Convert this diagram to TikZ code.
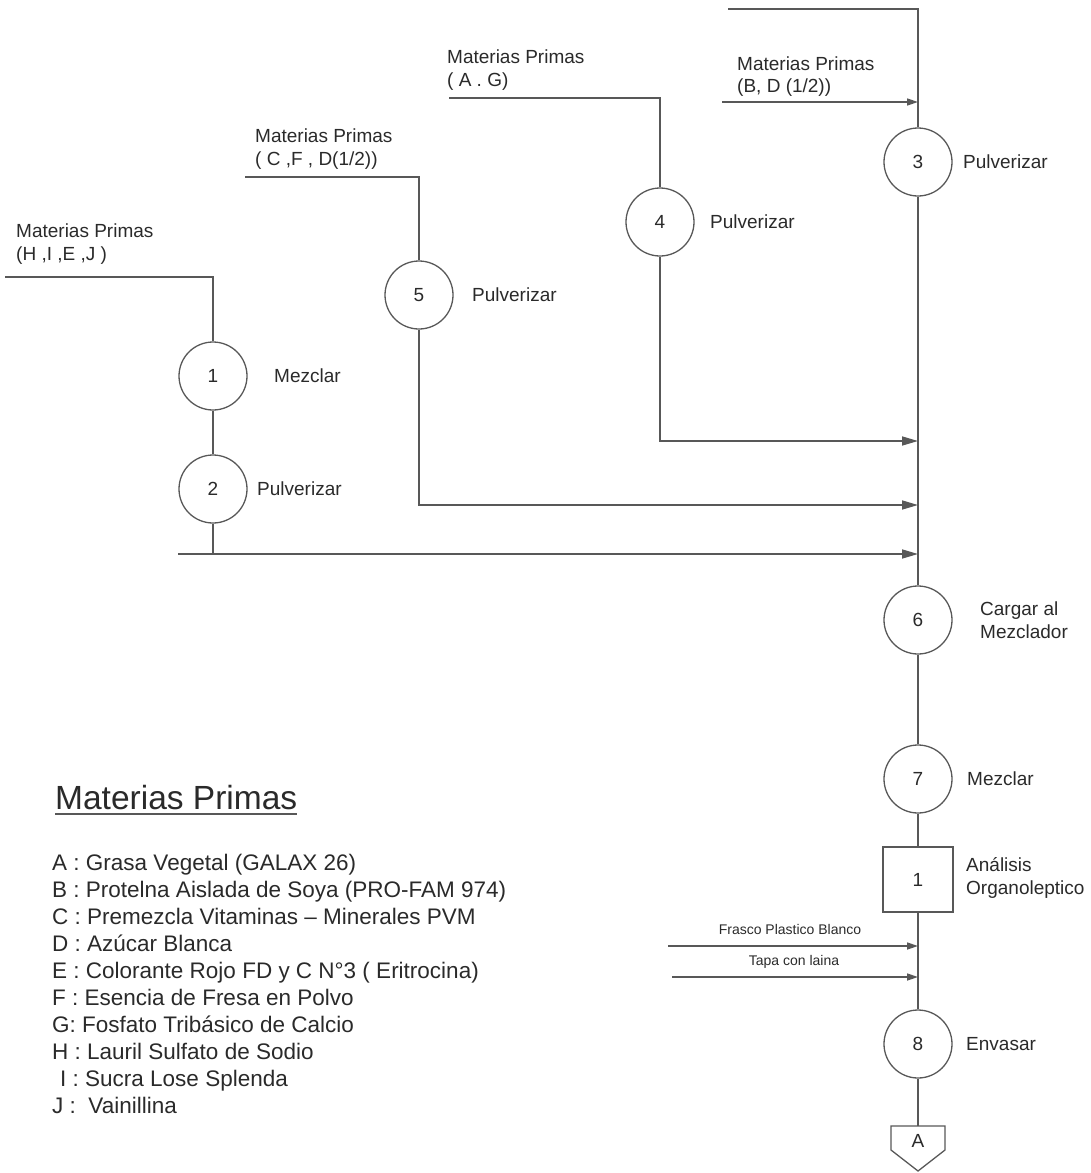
\documentclass[tikz,border=0pt]{standalone}
\usepackage{fontspec}
\setmainfont{Liberation Sans}
\usetikzlibrary{arrows.meta,calc}
\definecolor{ln}{HTML}{585858}
\definecolor{tx}{HTML}{2A2A2A}
\begin{document}
\begin{tikzpicture}[x=1pt,y=-1pt,
  proc/.style={circle, draw=ln, line width=1.3pt, minimum size=68pt, inner sep=0pt, text=tx, font=\fontsize{19}{22}\selectfont},
  insp/.style={rectangle, draw=ln, line width=1.3pt, minimum width=70pt, minimum height=65pt, inner sep=0pt, text=tx, font=\fontsize{19}{22}\selectfont},
  lbl/.style={anchor=west, inner sep=0pt, align=left, text=tx, font=\fontsize{19}{22.5}\selectfont},
  smalllbl/.style={inner sep=0pt, text=tx, font=\fontsize{14}{16}\selectfont},
  legitem/.style={anchor=base west, inner sep=0pt, text=tx, font=\fontsize{22.5}{26}\selectfont},
  flow/.style={draw=ln, line width=1.6pt},
  arr/.style={flow, -{Triangle[length=16pt,width=9pt]}},
  sarr/.style={flow, -{Triangle[length=11pt,width=7pt]}}
]
\useasboundingbox (0,0) rectangle (1090,1173);

% process symbols
\node[proc] (c1) at (213,376) {1};
\node[proc] (c2) at (213,489) {2};
\node[proc] (c3) at (918,162) {3};
\node[proc] (c4) at (660,222) {4};
\node[proc] (c5) at (419,295) {5};
\node[proc] (c6) at (918,620) {6};
\node[proc] (c7) at (918,779) {7};
\node[insp] (b1) at (918,879.5) {1};
\node[proc] (c8) at (918,1044) {8};
\node[inner sep=0pt, text=tx, font=\fontsize{19}{22}\selectfont] (offA) at (918,1141) {A};
\coordinate (offAtop) at ($(offA)+(0,-15)$);
\draw[draw=ln, line width=1.3pt] ($(offA)+(-27,-15)$) -- ($(offA)+(27,-15)$) -- ($(offA)+(27,9)$) -- ($(offA)+(0,30)$) -- ($(offA)+(-27,9)$) -- cycle;

% input labels
\node[lbl] (mH) at (16,244) {Materias Primas\\(H ,I ,E ,J )};
\node[lbl] (mC) at (255,149) {Materias Primas\\( C ,F , D(1/2))};
\node[lbl] (mA) at (447,70) {Materias Primas\\( A . G)};
\node[lbl] (mB) at (737,76.5) {Materias Primas\\(B, D (1/2))};

% operation labels
\node[lbl] (t1) at (274,376) {Mezclar};
\node[lbl] (t2) at (257,489) {Pulverizar};
\node[lbl] (t3) at (963,162) {Pulverizar};
\node[lbl] (t4) at (710,222) {Pulverizar};
\node[lbl] (t5) at (472,295) {Pulverizar};
\node[lbl] (t6) at (980,620) {Cargar al\\Mezclador};
\node[lbl] (t7) at (967,779) {Mezclar};
\node[lbl] (tb) at (966,878) {Análisis\\Organoleptico};
\node[lbl] (t8) at (966,1044) {Envasar};

% free ends and junctions
\coordinate (inH) at (5,277);
\coordinate (inC) at (245,177);
\coordinate (inA) at (449,98);
\coordinate (inTop) at (728,9);
\coordinate (inB) at (722,102);
\coordinate (in2) at (178,554);
\coordinate (inF) at (668,946);
\coordinate (inT) at (672,977);
\coordinate (jB) at (918,102);
\coordinate (j4) at (918,441);
\coordinate (j5) at (918,505);
\coordinate (j2) at (918,554);
\coordinate (jF) at (918,946);
\coordinate (jT) at (918,977);

% connectors
\draw[flow] (inH) -| (c1.north);
\draw[flow] (c1.south) -- (c2.north);
\draw[flow] (c2.south) -- (c2.south |- in2);
\draw[arr] (in2) -- (j2);
\draw[flow] (inC) -| (c5.north);
\draw[arr] (c5.south) |- (j5);
\draw[flow] (inA) -| (c4.north);
\draw[arr] (c4.south) |- (j4);
\draw[flow] (inTop) -| (c3.north);
\draw[sarr] (inB) -- (jB);
\draw[flow] (c3.south) -- (c6.north);
\draw[flow] (c6.south) -- (c7.north);
\draw[flow] (c7.south) -- (b1.north);
\draw[flow] (b1.south) -- (c8.north);
\draw[flow] (c8.south) -- (offAtop);
\draw[sarr] (inF) -- (jF);
\draw[sarr] (inT) -- (jT);
\node[smalllbl] (lF) at (790,929) {Frasco Plastico Blanco};
\node[smalllbl] (lT) at (794,962) {Tapa con laina};

% legend
\node[anchor=base west, inner sep=0pt, text=tx, font=\fontsize{33.5}{38}\selectfont] (lt) at (55,809) {Materias Primas};
\draw[draw=ln, line width=1.8pt] ($(lt.base west)+(0,5)$) -- ($(lt.base east)+(0,5)$);
\node[legitem] (lA) at (52,870) {A : Grasa Vegetal (GALAX 26)};
\node[legitem] (lB) at (52,897) {B : Protelna Aislada de Soya (PRO-FAM 974)};
\node[legitem] (lC) at (52,924) {C : Premezcla Vitaminas – Minerales PVM};
\node[legitem] (lD) at (52,951) {D : Azúcar Blanca};
\node[legitem] (lE) at (52,978) {E : Colorante Rojo FD y C N°3 ( Eritrocina)};
\node[legitem] (lFF) at (52,1005) {F : Esencia de Fresa en Polvo};
\node[legitem] (lG) at (52,1032) {G: Fosfato Tribásico de Calcio};
\node[legitem] (lH) at (52,1059) {H : Lauril Sulfato de Sodio};
\node[legitem] (lI) at (60,1086) {I : Sucra Lose Splenda};
\node[legitem] (lJ) at (52,1113) {J :\ \ Vainillina};
\end{tikzpicture}
\end{document}
